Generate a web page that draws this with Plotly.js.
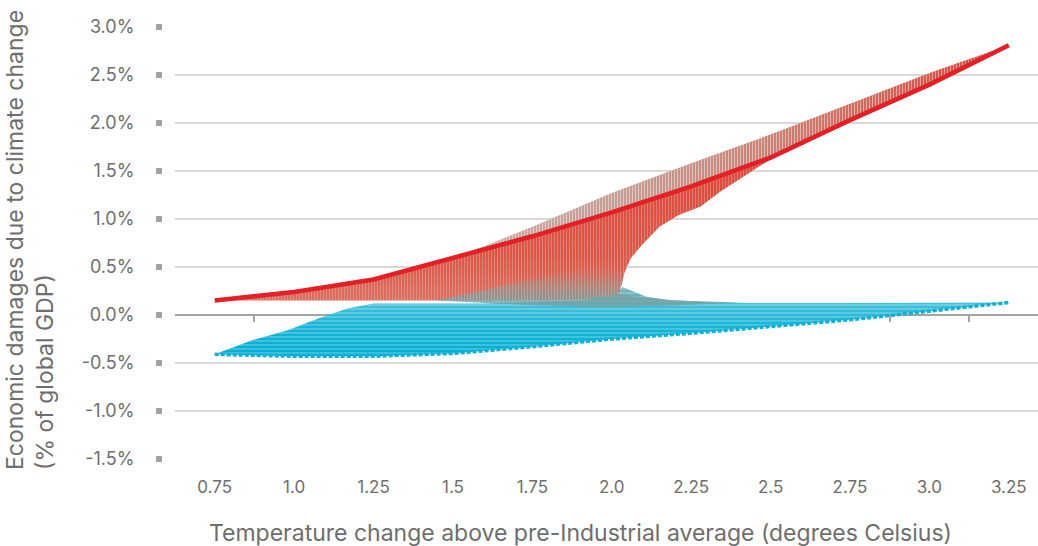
<!DOCTYPE html>
<html>
<head>
<meta charset="utf-8">
<script src="https://cdn.plot.ly/plotly-3.0.1.min.js"></script>
<style>html,body{margin:0;padding:0;background:#fff;}#chart{width:1038px;height:546px;}</style>
</head>
<body>
<div id="chart"></div>
<script>
// ---- data ----
const temps = [0.75, 1.0, 1.25, 1.5, 1.75, 2.0, 2.25, 2.5, 2.75, 3.0, 3.25];
const tempLabels = ['0.75', '1.0', '1.25', '1.5', '1.75', '2.0', '2.25', '2.5', '2.75', '3.0', '3.25'];
const axisMarks = [0.875, 1.125, 1.375, 1.625, 1.875, 2.125, 2.375, 2.625, 2.875, 3.125];
const damagesHigh = [0.15, 0.24, 0.37, 0.60, 0.82, 1.07, 1.34, 1.64, 2.03, 2.40, 2.81];
const damagesLow = [-0.41, -0.43, -0.43, -0.40, -0.33, -0.25, -0.19, -0.12, -0.05, 0.04, 0.13];
const yTicks = [-1.5, -1.0, -0.5, 0.0, 0.5, 1.0, 1.5, 2.0, 2.5, 3.0];
const yLabels = ['-1.5%', '-1.0%', '-0.5%', '0.0%', '0.5%', '1.0%', '1.5%', '2.0%', '2.5%', '3.0%'];

// outline of the spread of transition curves
const upperEdgeX = [1.5, 1.6, 1.75, 2.0, 2.25, 2.5, 2.75, 3.0, 3.25];
const upperEdgeY = [0.60, 0.72, 0.92, 1.27, 1.58, 1.88, 2.20, 2.52, 2.81];
const innerEdgeX = [2.58, 2.46, 2.34, 2.28, 2.21, 2.15, 2.09, 2.06, 2.04, 2.03, 2.02, 1.9, 1.7, 0.75];
const innerEdgeY = [1.77, 1.54, 1.28, 1.13, 1.04, 0.92, 0.71, 0.59, 0.44, 0.30, 0.22, 0.16, 0.15, 0.15];
const lowTopEdgeX = [3.25, 2.75, 2.43, 2.30, 2.17, 2.11, 2.07, 2.035, 2.0, 1.9, 1.6, 1.25, 1.17, 1.08, 0.98, 0.87, 0.75];
const lowTopEdgeY = [0.13, 0.125, 0.125, 0.135, 0.16, 0.19, 0.24, 0.29, 0.22, 0.15, 0.12, 0.12, 0.07, -0.03, -0.16, -0.26, -0.41];
const blendX = [1.45, 1.65, 1.85, 1.98, 2.04, 2.03, 2.02, 2.06, 2.2, 2.4, 2.2, 1.95, 1.7, 1.45];
const blendY = [0.15, 0.30, 0.45, 0.52, 0.44, 0.30, 0.22, 0.20, 0.15, 0.13, 0.10, 0.08, 0.11, 0.15];

const FONT = 'Inter, "Noto Sans", sans-serif';
const TXT = '#6e6e6e';

// ---- polygons built from the arrays ----
const cyanPolyX = temps.concat(lowTopEdgeX);
const cyanPolyY = damagesLow.concat(lowTopEdgeY);
const redMainX = temps.slice(0, 8).concat(innerEdgeX);
const redMainY = damagesHigh.slice(0, 8).concat(innerEdgeY);
const bulgeX = upperEdgeX.concat(temps.slice(3).reverse());
const bulgeY = upperEdgeY.concat(damagesHigh.slice(3).reverse());

function poly(x, y, extra) {
  return Object.assign({
    type: 'scatter', mode: 'lines', x: x, y: y, fill: 'toself',
    line: {width: 0, color: 'rgba(0,0,0,0)'}, hoverinfo: 'skip', showlegend: false
  }, extra);
}
function stripes(x, y, shape, op, size, sol) {
  return poly(x, y, {
    fillcolor: 'rgba(0,0,0,0)',
    fillpattern: {shape: shape, fgcolor: '#ffffff', fgopacity: op, bgcolor: 'rgba(0,0,0,0)', size: size, solidity: sol}
  });
}

const traces = [
  poly(cyanPolyX, cyanPolyY, {
    fillgradient: {type: 'vertical', start: -0.45, stop: 0.3,
      colorscale: [[0, '#00acd2'], [0.45, '#16b6d7'], [0.76, '#45c0da'], [1, '#84acad']]}
  }),
  stripes(cyanPolyX, cyanPolyY, '-', 0.35, 4, 0.3),
  poly(redMainX, redMainY, {
    fillgradient: {type: 'vertical', start: 0.15, stop: 1.8,
      colorscale: [[0, '#d9705f'], [0.3, '#da5848'], [1, '#dc483c']]}
  }),
  poly(blendX, blendY, {
    fillgradient: {type: 'vertical', start: 0.08, stop: 0.55,
      colorscale: [[0, 'rgba(110,165,170,0.9)'], [0.45, 'rgba(145,150,145,0.6)'], [1, 'rgba(200,110,95,0)']]}
  }),
  poly(bulgeX, bulgeY, {
    fillgradient: {type: 'horizontal', start: 1.5, stop: 3.25,
      colorscale: [[0, '#c9aca5'], [0.3, '#c49d94'], [0.55, '#c98478'], [0.8, '#d36152'], [1, '#dc4238']]}
  }),
  stripes(bulgeX, bulgeY, '|', 0.45, 3, 0.35),
  stripes(redMainX, redMainY, '|', 0.25, 3, 0.3),
  {
    type: 'scatter', mode: 'lines', x: temps, y: damagesLow, xaxis: 'x', yaxis: 'y',
    line: {color: '#10b1d6', width: 3.5, dash: '4px,2px'}, hoverinfo: 'skip', showlegend: false
  },
  {
    type: 'scatter', mode: 'lines', x: temps, y: damagesHigh, xaxis: 'x2', yaxis: 'y',
    line: {color: '#e41f26', width: 4.5}, hoverinfo: 'skip', showlegend: false
  }
];

const L = 162, W = 1038, H = 546, T = 27, B = 87;
const pw = W - L, ph = H - T - B;
const dom = [13 / pw, 1];
const xr = [0.625, 3.342];

const layout = {
  width: W, height: H,
  margin: {l: L, r: 0, t: T, b: B, pad: 0},
  paper_bgcolor: '#ffffff', plot_bgcolor: '#ffffff',
  font: {family: FONT, color: TXT},
  showlegend: false,
  xaxis: {
    domain: dom, range: xr, anchor: 'y',
    tickvals: temps, ticktext: tempLabels, ticks: '',
    showgrid: false, zeroline: false, showline: false,
    tickfont: {family: FONT, size: 17, color: TXT},
    ticklabelstandoff: 16
  },
  xaxis2: {
    domain: dom, range: xr, overlaying: 'x', anchor: 'free', position: 1.5 / 4.5,
    tickvals: axisMarks, ticks: 'outside', ticklen: 6, tickwidth: 2, tickcolor: '#a3a3a3',
    showticklabels: false, showline: true, linecolor: '#a3a3a3', linewidth: 2,
    showgrid: false, zeroline: false, layer: 'below traces'
  },
  yaxis: {
    range: [-1.5, 3.0], anchor: 'free', position: 0,
    tickvals: yTicks, ticktext: yLabels,
    ticks: 'outside', ticklen: 6, tickwidth: 6, tickcolor: '#a3a3a3',
    showgrid: true, gridcolor: '#d9d9d9', gridwidth: 1.5,
    zeroline: false, showline: false,
    tickfont: {family: FONT, size: 18, color: TXT},
    ticklabelstandoff: 18
  },
  annotations: [
    {
      text: 'Economic damages due to climate change<br>(% of global GDP)',
      textangle: -90, align: 'left', showarrow: false,
      xref: 'paper', yref: 'paper', x: (30 - L) / pw, y: (459 - 240) / ph,
      xanchor: 'center', yanchor: 'middle',
      font: {family: FONT, size: 23, color: TXT}
    },
    {
      text: 'Temperature change above pre-Industrial average (degrees Celsius)',
      showarrow: false, xref: 'paper', yref: 'paper',
      x: (580 - L) / pw, y: (459 - 533) / ph, xanchor: 'center', yanchor: 'middle',
      font: {family: FONT, size: 23, color: TXT}
    }
  ]
};

Plotly.newPlot('chart', traces, layout, {staticPlot: true, displayModeBar: false});
</script>
</body>
</html>
